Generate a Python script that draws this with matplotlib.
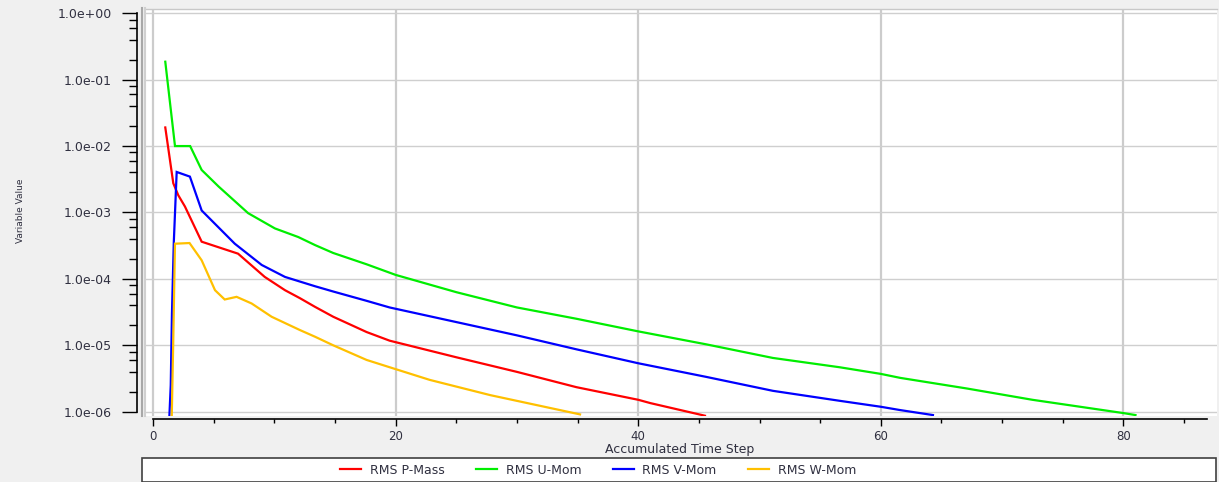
import matplotlib
matplotlib.use("Agg")
import matplotlib.pyplot as plt
from matplotlib.lines import Line2D
from matplotlib.patches import Rectangle
from matplotlib.ticker import FixedLocator, MultipleLocator, FuncFormatter

# Residual histories (x = accumulated time step, y = log10 of RMS)
p_mass_x = [1.0, 1.66, 2.07, 2.62, 4.0, 7.0, 9.2, 10.87, 12.1, 13.34, 14.85, 17.6, 19.5,
            25.0, 30.0, 34.9, 40.0, 41.0, 45.5]
p_mass_log = [-1.72, -2.56, -2.74, -2.91, -3.44, -3.62, -3.97, -4.17, -4.29, -4.42, -4.57, -4.80, -4.93,
              -5.18, -5.40, -5.63, -5.82, -5.87, -6.06]

u_mom_x = [1.0, 1.8, 3.05, 4.0, 5.4, 7.83, 10.04, 11.97, 13.34, 14.85, 17.6, 20.0,
           25.0, 30.0, 34.9, 40.0, 45.6, 51.1, 56.6, 60.0, 61.6, 67.1, 72.5, 80.0, 81.0]
u_mom_log = [-0.73, -2.0, -2.0, -2.36, -2.61, -3.01, -3.24, -3.37, -3.49, -3.61, -3.78, -3.94,
             -4.20, -4.43, -4.60, -4.79, -4.985, -5.19, -5.33, -5.43, -5.49, -5.65, -5.82, -6.02, -6.05]

v_mom_x = [1.33, 1.45, 1.55, 1.7, 1.94, 3.03, 4.0, 6.73, 8.95, 10.87, 12.1, 13.34, 14.85, 17.6,
           19.5, 25.0, 30.0, 34.9, 40.0, 45.6, 51.1, 56.6, 60.0, 61.6, 64.3]
v_mom_log = [-6.1, -5.6, -4.52, -3.46, -2.39, -2.46, -2.97, -3.47, -3.79, -3.97, -4.04, -4.11, -4.19, -4.33,
             -4.43, -4.65, -4.85, -5.06, -5.27, -5.475, -5.685, -5.835, -5.925, -5.975, -6.05]

w_mom_x = [1.53, 1.65, 1.8, 3.0, 4.0, 5.1, 5.9, 6.88, 8.12, 9.77, 12.1, 13.34, 14.85, 17.6,
           19.5, 22.8, 27.8, 35.2]
w_mom_log = [-6.1, -5.0, -3.47, -3.46, -3.72, -4.17, -4.31, -4.27, -4.37, -4.57, -4.77, -4.87, -5.0, -5.22,
             -5.33, -5.52, -5.75, -6.04]

series_names = ["RMS P-Mass", "RMS U-Mom", "RMS V-Mom", "RMS W-Mom"]
series_colors = ["#ff0000", "#00ee00", "#0000ff", "#ffc000"]

W, H = 1219, 482
BG = "#f0f0f0"
TXT = "#303040"

plt.rcParams["font.family"] = "DejaVu Sans"

fig = plt.figure(figsize=(W / 100, H / 100), dpi=100, facecolor=BG)

# plot area in pixel coordinates
left_px, right_px, top_px, bottom_px = 146, 1216.5, 8.5, 416
ax = fig.add_axes([left_px / W, 1 - bottom_px / H,
                   (right_px - left_px) / W, (bottom_px - top_px) / H])
ax.set_facecolor("white")

all_series = [(p_mass_x, p_mass_log), (u_mom_x, u_mom_log),
              (v_mom_x, v_mom_log), (w_mom_x, w_mom_log)]
for (xs, logs), name, col in zip(all_series, series_names, series_colors):
    ax.plot(xs, [10 ** v for v in logs], color=col, lw=1.6, label=name,
            solid_joinstyle="miter", zorder=3)

ax.set_yscale("log")
ax.set_xlim(-0.59, 87.68)
ax.set_ylim(10 ** -6.064, 10 ** 0.071)

# axes: y at left pushed outward, x below pushed outward
ax.spines["left"].set_position(("outward", 6.7))
ax.spines["bottom"].set_position(("outward", 2.4))
ax.spines["left"].set_bounds(1e-6, 1)
ax.spines["bottom"].set_bounds(0, 86.9)
for s in ["left", "bottom"]:
    ax.spines[s].set_color("black")
    ax.spines[s].set_linewidth(1.2)
ax.spines["right"].set_visible(False)
ax.spines["top"].set_color("#c8c8c8")
ax.spines["top"].set_linewidth(1.0)

ax.yaxis.set_major_locator(FixedLocator([10.0 ** k for k in range(-6, 1)]))
ax.yaxis.set_minor_locator(FixedLocator([m * 10.0 ** k for k in range(-7, 0) for m in (2, 4, 6, 8)]))
ax.yaxis.set_major_formatter(FuncFormatter(lambda v, p: f"{v:.1e}"))
ax.yaxis.set_minor_formatter(FuncFormatter(lambda v, p: ""))

ax.xaxis.set_major_locator(MultipleLocator(20))
ax.xaxis.set_minor_locator(MultipleLocator(5))

ax.tick_params(axis="y", which="major", length=10.8, width=1.0, pad=7, labelsize=9, labelcolor=TXT)
ax.tick_params(axis="y", which="minor", length=5.8, width=1.0)
ax.tick_params(axis="x", which="major", length=4.8, width=1.0, pad=3.0, labelsize=8.5, labelcolor=TXT)
ax.tick_params(axis="x", which="minor", length=2.9, width=1.0)

ax.xaxis.grid(True, which="major", color="#cccccc", lw=1.6, zorder=1)
ax.yaxis.grid(True, which="major", color="#cfcfcf", lw=1.0, zorder=1)
ax.set_axisbelow(True)

# gray double border on the left of the plot area
fig.add_artist(Line2D([141.5 / W, 141.5 / W], [1 - 416 / H, 1 - 8 / H],
                      color="#a8a8a8", lw=1.5))
fig.add_artist(Line2D([144.5 / W, 144.5 / W], [1 - 416 / H, 1 - 8 / H],
                      color="#d0d0d0", lw=1.5))

fig.text(680 / W, 1 - 449.5 / H, "Accumulated Time Step", ha="center", va="center",
         fontsize=9, color=TXT)
fig.text(20.5 / W, 1 - 211 / H, "Variable Value", ha="center", va="center",
         rotation=90, fontsize=6.5, color=TXT)

# legend panel at the bottom
fig.add_artist(Rectangle((142 / W, 0), (1216 - 142) / W, (482 - 458) / H,
                         transform=fig.transFigure, facecolor="white",
                         edgecolor="#404040", lw=1.2))
handles, labels = ax.get_legend_handles_labels()
fig.legend(handles, labels, loc="center", bbox_to_anchor=(598 / W, 1 - 470 / H),
           ncol=4, frameon=False, fontsize=9, handlelength=1.7, handletextpad=0.7,
           columnspacing=2.5, labelcolor=TXT)

fig.savefig("out.png", dpi=100, facecolor=BG)
